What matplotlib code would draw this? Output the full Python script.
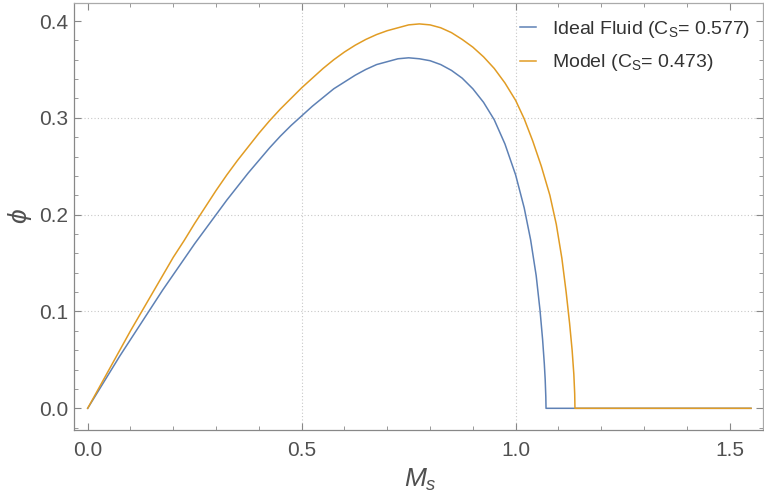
import matplotlib
matplotlib.use("Agg")
import matplotlib.pyplot as plt
from matplotlib.ticker import MultipleLocator, FormatStrFormatter

plt.rcParams['font.family'] = ['Liberation Sans', 'DejaVu Sans']
plt.rcParams['mathtext.fontset'] = 'custom'
plt.rcParams['mathtext.rm'] = 'Liberation Sans'
plt.rcParams['mathtext.it'] = 'Liberation Sans:italic'

# values
ideal_ms = [0, 0.025, 0.05, 0.075, 0.10, 0.125, 0.15, 0.175, 0.20, 0.225, 0.25,
            0.275, 0.30, 0.325, 0.35, 0.375, 0.40, 0.425, 0.45, 0.475, 0.50,
            0.525, 0.55, 0.575, 0.60, 0.625, 0.65, 0.675, 0.70, 0.725, 0.75,
            0.775, 0.80, 0.825, 0.85, 0.875, 0.90, 0.925, 0.95, 0.975, 1.00,
            1.02, 1.035, 1.048, 1.057, 1.063, 1.067, 1.069, 1.0705, 1.071, 1.55]
ideal_phi = [0, 0.018, 0.036, 0.054, 0.071, 0.088, 0.105, 0.122, 0.138, 0.154,
             0.170, 0.185, 0.200, 0.215, 0.229, 0.243, 0.256, 0.269, 0.281,
             0.292, 0.302, 0.312, 0.321, 0.330, 0.337, 0.344, 0.350, 0.355,
             0.358, 0.361, 0.362, 0.361, 0.359, 0.355, 0.349, 0.341, 0.330,
             0.316, 0.298, 0.273, 0.241, 0.207, 0.174, 0.137, 0.101, 0.071,
             0.046, 0.030, 0.012, 0.0, 0.0]

model_ms = [0, 0.025, 0.05, 0.075, 0.10, 0.125, 0.15, 0.175, 0.20, 0.225, 0.25,
            0.275, 0.30, 0.325, 0.35, 0.375, 0.40, 0.425, 0.45, 0.475, 0.50,
            0.525, 0.55, 0.575, 0.60, 0.625, 0.65, 0.675, 0.70, 0.725, 0.75,
            0.775, 0.80, 0.825, 0.85, 0.875, 0.90, 0.925, 0.95, 0.975, 1.00,
            1.02, 1.04, 1.06, 1.08, 1.095, 1.108, 1.118, 1.126, 1.132, 1.136,
            1.138, 1.1386, 1.55]
model_phi = [0, 0.020, 0.040, 0.060, 0.080, 0.099, 0.118, 0.137, 0.156, 0.173,
             0.191, 0.208, 0.225, 0.241, 0.256, 0.270, 0.284, 0.297, 0.309,
             0.320, 0.331, 0.341, 0.351, 0.360, 0.368, 0.375, 0.381, 0.386,
             0.390, 0.393, 0.396, 0.397, 0.396, 0.393, 0.388, 0.381, 0.373,
             0.363, 0.351, 0.336, 0.318, 0.299, 0.276, 0.250, 0.220, 0.190,
             0.155, 0.120, 0.088, 0.060, 0.035, 0.015, 0.0, 0.0]

labels = [r"Ideal Fluid ($\mathregular{C_S}$= 0.577)",
          r"Model ($\mathregular{C_S}$= 0.473)"]
colors = ["#5E81B5", "#E19C24"]

fig = plt.figure(figsize=(7.64, 4.92), dpi=100)
ax = fig.add_axes([74/764, 62/492, 689/764, 427/492])

ax.plot(ideal_ms, ideal_phi, color=colors[0], lw=1.1, label=labels[0])
ax.plot(model_ms, model_phi, color=colors[1], lw=1.1, label=labels[1])

ax.set_xlim(-0.032, 1.578)
ax.set_ylim(-0.0224, 0.4186)

# dotted grid lines as in the original
for gx in [0.5, 1.0]:
    ax.axvline(gx, color="#c8c8c8", lw=0.8, ls=(0, (1, 2)), zorder=0)
for gy in [0.1, 0.2, 0.3]:
    ax.axhline(gy, color="#c8c8c8", lw=0.8, ls=(0, (1, 2)), zorder=0)

ax.xaxis.set_major_locator(MultipleLocator(0.5))
ax.xaxis.set_minor_locator(MultipleLocator(0.1))
ax.yaxis.set_major_locator(MultipleLocator(0.1))
ax.yaxis.set_minor_locator(MultipleLocator(0.02))
ax.xaxis.set_major_formatter(FormatStrFormatter('%.1f'))
ax.yaxis.set_major_formatter(FormatStrFormatter('%.1f'))

ax.tick_params(which='both', direction='in', top=True, right=True,
               color='#888888', labelcolor='#505050', labelsize=15)
ax.tick_params(which='major', length=5, width=0.8)
ax.tick_params(which='minor', length=3, width=0.6)
ax.tick_params(axis='x', pad=8)
ax.tick_params(axis='y', pad=4)
for side in ['left', 'bottom']:
    ax.spines[side].set_color('#888888')
for side in ['top', 'right']:
    ax.spines[side].set_color('#aaaaaa')
for s in ax.spines.values():
    s.set_linewidth(0.9)

ax.set_xlabel(r"$M_s$", fontsize=19, color='#505050', va='center')
ax.set_ylabel(r"$\phi$", fontsize=19, color='#505050', labelpad=4)
ax.xaxis.set_label_coords(0.503, -0.117)

ax.legend(loc='upper right', frameon=False, fontsize=14, handlelength=0.8,
          handletextpad=0.8, labelcolor='#333333', borderaxespad=0.1,
          labelspacing=0.65, bbox_to_anchor=(0.995, 0.986))

fig.savefig("out.png", dpi=100)
